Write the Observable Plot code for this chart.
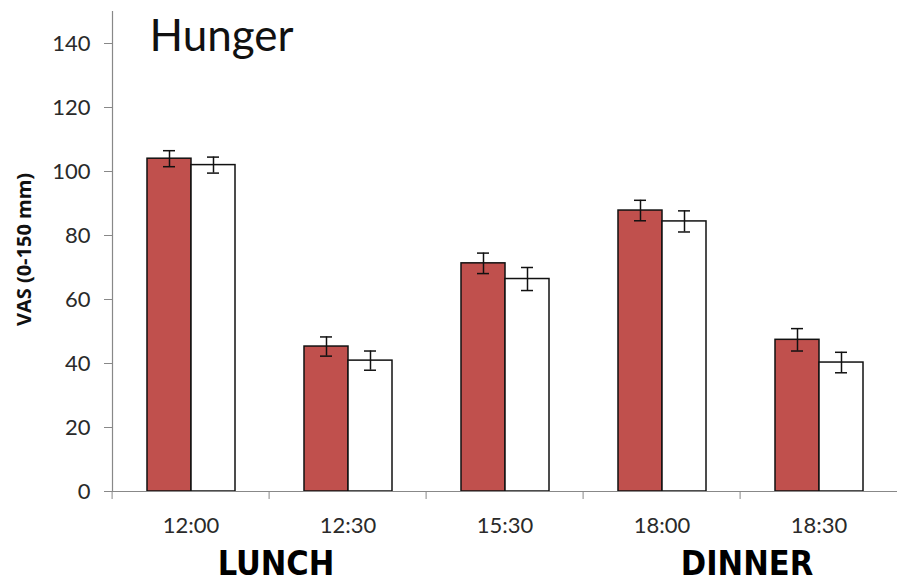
<!DOCTYPE html>
<html><head><meta charset="utf-8">
<script src="https://cdn.jsdelivr.net/npm/d3@7"></script>
<script src="https://cdn.jsdelivr.net/npm/@observablehq/plot@0.6"></script>
<style>body{margin:0;background:#fff}</style>
</head><body><div id="chart"></div>
<script>
const times = ["12:00", "12:30", "15:30", "18:00", "18:30"];
const groups = ["A", "B"];
const valuesA = [104, 45.3, 71.3, 87.8, 47.4];
const errorsA = [2.5, 3.0, 3.2, 3.2, 3.5];
const valuesB = [102, 40.9, 66.4, 84.4, 40.3];
const errorsB = [2.5, 3.0, 3.6, 3.3, 3.2];
const yTicks = [0, 20, 40, 60, 80, 100, 120, 140];
const meals = [{time: "12:00", label: "LUNCH"}, {time: "18:00", label: "DINNER"}];
const titleText = "Hunger";
const yLabel = "VAS (0-150 mm)";

const data = times.flatMap((t, i) => [
  {time: t, group: "A", value: valuesA[i], err: errorsA[i]},
  {time: t, group: "B", value: valuesB[i], err: errorsB[i]}
]);

const W = 899, H = 584, mL = 110, mR = 0, mT = 11, mB = 93;
const band = (W - mL - mR) / times.length;
const ink = "#111";

const chart = Plot.plot({
  width: W, height: H,
  marginLeft: mL, marginRight: mR, marginTop: mT, marginBottom: mB,
  style: {fontFamily: "Lato, sans-serif", background: "white", overflow: "visible"},
  fx: {domain: times, padding: 0, label: null},
  x: {domain: groups, paddingInner: 0, paddingOuter: 0.75, axis: null},
  y: {domain: [0, 150], label: null},
  color: {domain: groups, range: ["#c0504d", "#ffffff"]},
  marks: [
    Plot.barY(data, {fx: "time", x: "group", y: "value", fill: "group", stroke: ink, strokeWidth: 1.5}),
    Plot.ruleX(data, {fx: "time", x: "group", y1: d => d.value - d.err, y2: d => d.value + d.err, stroke: ink, strokeWidth: 1.5}),
    Plot.tickY(data, {fx: "time", x: "group", y: d => d.value + d.err, insetLeft: 16, insetRight: 16, stroke: ink, strokeWidth: 1.5}),
    Plot.tickY(data, {fx: "time", x: "group", y: d => d.value - d.err, insetLeft: 16, insetRight: 16, stroke: ink, strokeWidth: 1.5}),
    Plot.ruleY([0], {stroke: "#888", strokeWidth: 1.2}),
    Plot.frame({anchor: "left", stroke: "#888", strokeWidth: 1.2, facetAnchor: "left"}),
    Plot.axisY({ticks: yTicks, tickSize: 8, tickPadding: 14, stroke: "#888", fill: "#2a2a2a", fontSize: 22, label: null}),
    Plot.axisFx({anchor: "bottom", tickSize: 0, tickPadding: 26, fill: "#2a2a2a", fontSize: 22, label: null}),
    Plot.axisFx({anchor: "bottom", tickSize: 8, tickFormat: () => "", dx: -band / 2, stroke: "#888", label: null}),
    Plot.text([{time: times[0]}], {fx: "time", text: () => titleText, frameAnchor: "top-left", textAnchor: "start", lineAnchor: "top", dx: 37, dy: 8, fontSize: 44, fill: "#111"}),
    Plot.text([{time: times[0]}], {fx: "time", text: () => yLabel, frameAnchor: "left", textAnchor: "middle", lineAnchor: "middle", rotate: -90, dx: -88, dy: -2, fontSize: 20, fontWeight: "bold", fontFamily: "Open Sans", fill: "#111"}),
    Plot.text(meals, {fx: "time", text: "label", frameAnchor: "bottom", textAnchor: "middle", lineAnchor: "bottom", dx: 85, dy: 83, fontSize: 34, fontWeight: "bold", fontFamily: "DejaVu Sans Condensed", fill: "#000"})
  ]
});
document.getElementById("chart").appendChild(chart);
</script>
</body></html>
